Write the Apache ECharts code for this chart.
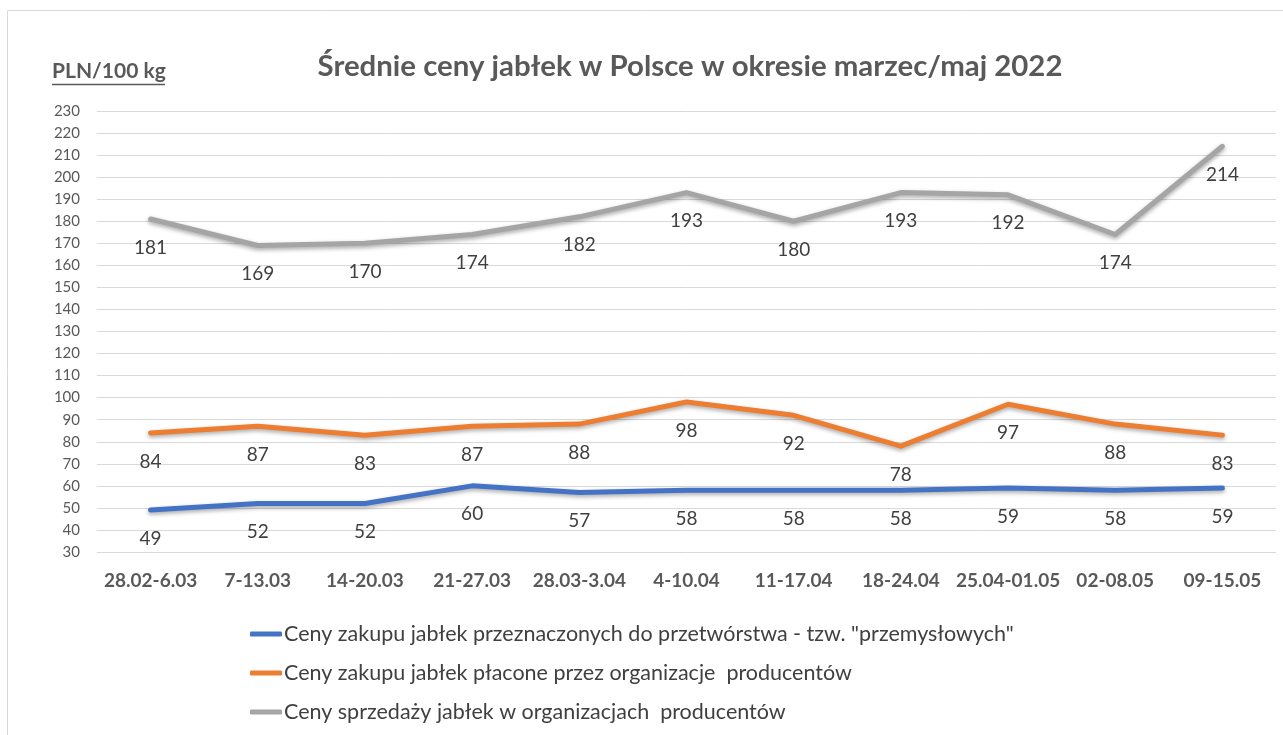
<!DOCTYPE html>
<html>
<head>
<meta charset="utf-8">
<script src="https://cdn.jsdelivr.net/npm/echarts@6/dist/echarts.min.js"></script>
<style>
  html, body { margin: 0; padding: 0; background: #fff; }
  #chart { width: 1283px; height: 735px; }
</style>
</head>
<body>
<div id="chart"></div>
<script>
var categories = ["28.02-6.03", "7-13.03", "14-20.03", "21-27.03", "28.03-3.04", "4-10.04",
  "11-17.04", "18-24.04", "25.04-01.05", "02-08.05", "09-15.05"];
var przemyslowe = [49, 52, 52, 60, 57, 58, 58, 58, 59, 58, 59];
var organizacjeZakup = [84, 87, 83, 87, 88, 98, 92, 78, 97, 88, 83];
var organizacjeSprzedaz = [181, 169, 170, 174, 182, 193, 180, 193, 192, 174, 214];
var seriesNames = [
  'Ceny zakupu jabłek przeznaczonych do przetwórstwa - tzw. "przemysłowych"',
  "Ceny zakupu jabłek płacone przez organizacje  producentów",
  "Ceny sprzedaży jabłek w organizacjach  producentów"
];
var colors = ["#4472C4", "#ED7D31", "#A5A5A5"];

var font = "Lato, 'Open Sans', sans-serif";

function makeSeries(name, data, color) {
  return {
    name: name,
    type: "line",
    data: data,
    symbol: "circle",
    symbolSize: 2,
    showSymbol: true,
    itemStyle: { color: color },
    color: color,
    lineStyle: {
      width: 5,
      color: color,
      join: "round",
      cap: "round",
      shadowBlur: 4,
      shadowColor: "rgba(0,0,0,0.35)",
      shadowOffsetY: 2
    },
    label: {
      show: true,
      position: "bottom",
      distance: 18,
      fontSize: 19,
      fontFamily: font,
      color: "#404040"
    },
    labelLayout: { hideOverlap: false },
    emphasis: { disabled: true }
  };
}

var myChart = echarts.init(document.getElementById("chart"));
myChart.setOption({
  animation: false,
  textStyle: { fontFamily: font },
  title: {
    text: "Średnie ceny jabłek w Polsce w okresie marzec/maj 2022",
    left: 685,
    textAlign: "center",
    top: 47,
    textStyle: { fontSize: 29.4, fontWeight: "bold", color: "#595959", fontFamily: font }
  },
  graphic: [
    {
      type: "rect",
      shape: { x: 7.5, y: 10.5, width: 1300, height: 800 },
      style: { fill: "none", stroke: "#d9d9d9", lineWidth: 1 },
      silent: true
    },
    {
      type: "text",
      left: 52,
      top: 61,
      style: { text: "PLN/100 kg", fontSize: 21, fontWeight: "bold", fill: "#595959", fontFamily: font }
    },
    {
      type: "line",
      shape: { x1: 52, y1: 84.5, x2: 165, y2: 84.5 },
      style: { stroke: "#595959", lineWidth: 1.5 }
    }
  ],
  legend: {
    orient: "vertical",
    left: 245,
    top: 618,
    itemGap: 17,
    itemWidth: 32,
    itemHeight: 5,
    icon: "roundRect",
    textStyle: { fontSize: 21.5, color: "#404040", fontFamily: font, padding: [0, 0, 0, -3] },
    data: seriesNames
  },
  grid: { left: 97, right: 7, top: 111, bottom: 183 },
  xAxis: {
    type: "category",
    data: categories,
    boundaryGap: true,
    axisLine: { show: false },
    axisTick: { show: false },
    axisLabel: { fontSize: 19, fontWeight: "bold", color: "#595959", margin: 19, interval: 0 }
  },
  yAxis: {
    type: "value",
    min: 30,
    max: 230,
    interval: 10,
    axisLine: { show: false },
    axisTick: { show: false },
    axisLabel: { fontSize: 15, color: "#595959", margin: 17 },
    splitLine: { lineStyle: { color: "#d9d9d9", width: 1 } }
  },
  series: [
    makeSeries(seriesNames[0], przemyslowe, colors[0]),
    makeSeries(seriesNames[1], organizacjeZakup, colors[1]),
    makeSeries(seriesNames[2], organizacjeSprzedaz, colors[2])
  ]
});
</script>
</body>
</html>
